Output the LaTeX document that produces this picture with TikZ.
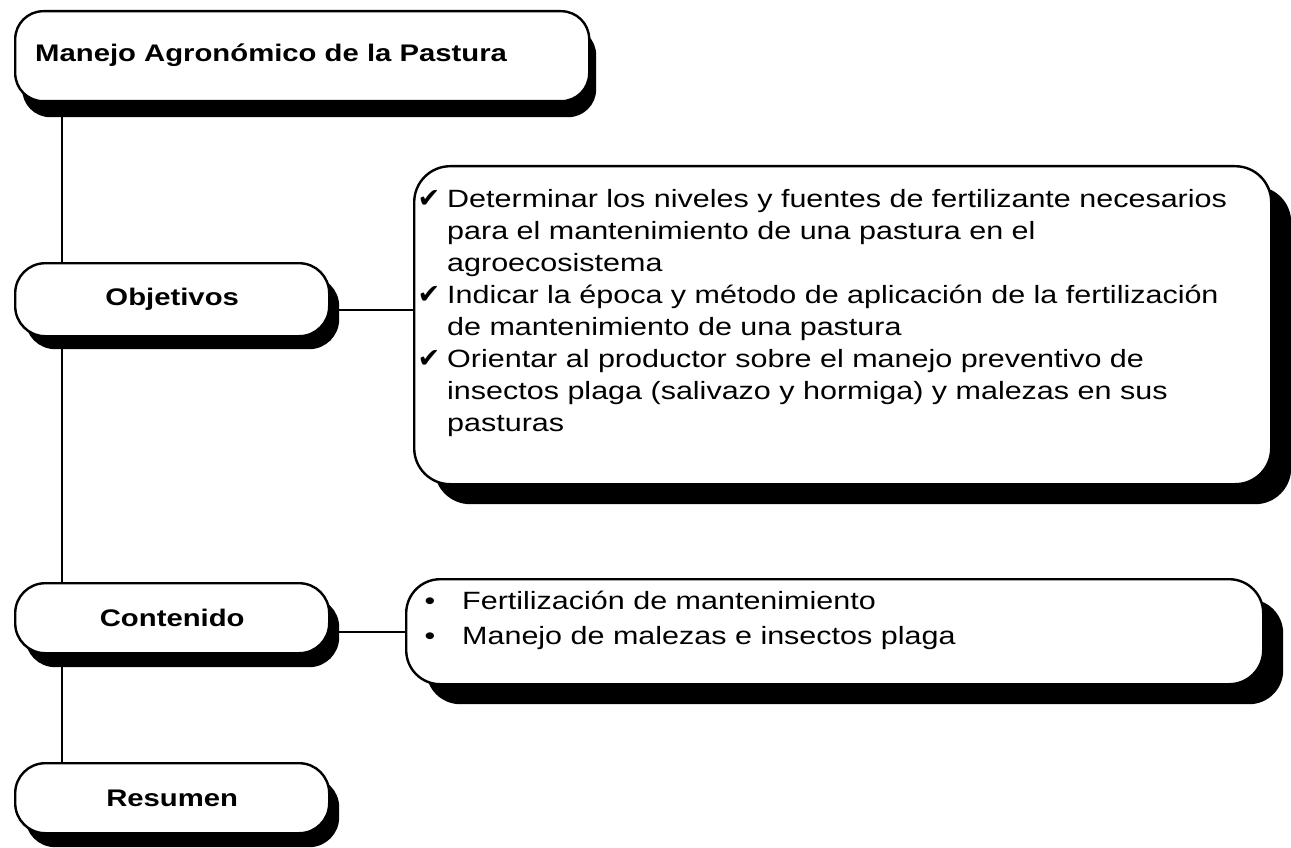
\documentclass[tikz,border=0pt]{standalone}
\usepackage{fontspec}
\setmainfont{Liberation Sans}[FakeStretch=1.22]
\newfontfamily\symfont{DejaVu Sans}
\usetikzlibrary{shadows,calc}
\pgfdeclarelayer{bg}
\pgfsetlayers{bg,main}
\newcommand\chk{\llap{{\symfont\fontsize{27pt}{27pt}\selectfont ✔}\hspace{7pt}}}
\newcommand\bul{\llap{•\hspace{27pt}}}
\begin{document}
\begin{tikzpicture}[x=1pt,y=-1pt,
  box/.style={draw=black, line width=2.4pt, fill=white, inner sep=0pt, anchor=north west},
  sh/.style n args={2}{general shadow={fill=black, shadow xshift=#1, shadow yshift=#2}},
  lbl/.style={font={\fontsize{24pt}{28pt}\selectfont\bfseries}, inner sep=0pt},
  list/.style={font={\fontsize{25pt}{32pt}\selectfont}, align=left, inner sep=0pt, anchor=north west},
  conn/.style={draw=black, line width=2pt}]
\useasboundingbox (0,0) rectangle (1291,848);
% title
\node[box, rounded corners=28pt, minimum width=574pt, minimum height=90pt, sh={7pt}{-16pt}] (title) at (14,10) {};
\node[lbl, anchor=base west] (titletext) at (35,62) {Manejo Agronómico de la Pastura};
% Objetivos
\node[box, rounded corners=30pt, minimum width=314pt, minimum height=73pt, sh={10pt}{-13pt}] (obj) at (14,262) {};
\node[lbl] (objlabel) at (obj.center) {Objetivos};
\node[box, rounded corners=36pt, minimum width=857pt, minimum height=318pt, sh={20pt}{-20pt}] (objs) at (413,165) {};
\node[list] (objtext) at (447,189) {\chk Determinar los niveles y fuentes de fertilizante necesarios\\
para el mantenimiento de una pastura en el\\
agroecosistema\\
\chk Indicar la época y método de aplicación de la fertilización\\
de mantenimiento de una pastura\\
\chk Orientar al productor sobre el manejo preventivo de\\
insectos plaga (salivazo y hormiga) y malezas en sus\\
pasturas};
% Contenido
\node[box, rounded corners=30pt, minimum width=314pt, minimum height=70pt, sh={10pt}{-14pt}] (cont) at (14,582) {};
\node[lbl] (contlabel) at (cont.center) {Contenido};
\node[box, rounded corners=34pt, minimum width=857pt, minimum height=105pt, sh={20pt}{-20pt}] (conts) at (405,578) {};
\node[list, font={\fontsize{25pt}{35pt}\selectfont}] (conttext) at (462,591) {\bul Fertilización de mantenimiento\\
\bul Manejo de malezas e insectos plaga};
% Resumen
\node[box, rounded corners=30pt, minimum width=314pt, minimum height=70pt, sh={10pt}{-14pt}] (res) at (14,762) {};
\node[lbl] (reslabel) at (res.center) {Resumen};
% connectors
\coordinate (spine) at (62,0);
\begin{pgfonlayer}{bg}
\draw[conn] (title.south -| spine) -- (res.north -| spine);
\path (obj.east) ++(0,10) coordinate (c1);
\draw[conn] (c1) -- (c1 -| objs.west);
\path (cont.east) ++(0,14) coordinate (c2);
\draw[conn] (c2) -- (c2 -| conts.west);
\end{pgfonlayer}
\end{tikzpicture}
\end{document}
